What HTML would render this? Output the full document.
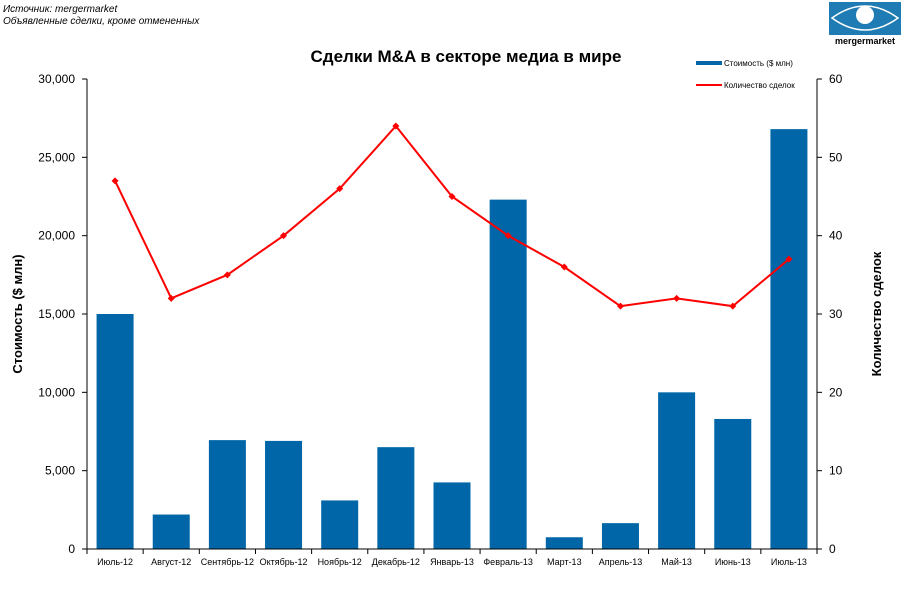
<!DOCTYPE html>
<html><head><meta charset="utf-8"><style>
body{margin:0;background:#fff;width:912px;height:586px;overflow:hidden;font-family:"Liberation Sans",sans-serif}
</style></head><body>
<svg id="chart" width="912" height="586" xmlns="http://www.w3.org/2000/svg" font-family="Liberation Sans, sans-serif">
<text x="3" y="12" font-size="10" font-style="italic">Источник: mergermarket</text>
<text x="3" y="24" font-size="10" font-style="italic">Объявленные сделки, кроме отмененных</text>
<g>
<rect x="829" y="2" width="72" height="33" fill="#1f7bb3"/>
<path d="M832 18 Q865 -6 898 18 Q865 42 832 18Z" fill="none" stroke="#fff" stroke-width="1.5"/>
<circle cx="865" cy="15" r="9" fill="#fff"/>
<text x="865" y="44" font-size="9" font-weight="bold" text-anchor="middle">mergermarket</text>
</g>
<text x="466" y="62" font-size="17" font-weight="bold" text-anchor="middle">Сделки M&amp;A  в секторе медиа в мире</text>
<g>
<rect x="696" y="61" width="26" height="4" fill="#0066a8"/>
<text x="724" y="66" font-size="8">Стоимость ($ млн)</text>
<line x1="696" y1="85" x2="722" y2="85" stroke="#f00" stroke-width="2"/>
<text x="724" y="88" font-size="8">Количество сделок</text>
</g>
<text transform="translate(22,314) rotate(-90)" font-size="13" font-weight="bold" text-anchor="middle">Стоимость  ($ млн)</text>
<text transform="translate(881,314) rotate(-90)" font-size="13" font-weight="bold" text-anchor="middle">Количество сделок</text>
<g id="plot"></g>
</svg>
<script>
const categories=["Июль-12","Август-12","Сентябрь-12","Октябрь-12","Ноябрь-12","Декабрь-12","Январь-13","Февраль-13","Март-13","Апрель-13","Май-13","Июнь-13","Июль-13"];
const values=[15000,2200,6950,6900,3100,6500,4250,22300,750,1650,10000,8300,26800];
const counts=[47,32,35,40,46,54,45,40,36,31,32,31,37];
const leftTicks=[0,5000,10000,15000,20000,25000,30000];
const rightTicks=[0,10,20,30,40,50,60];
const X0=87,X1=817,Y0=549,Y1=79;
const step=(X1-X0)/categories.length;
const yL=v=>Y0-(v/30000)*(Y0-Y1);
const yR=v=>Y0-(v/60)*(Y0-Y1);
const xC=i=>X0+step*(i+0.5);
const NS="http://www.w3.org/2000/svg";
const g=document.getElementById('plot');
function mk(t,a){const e=document.createElementNS(NS,t);for(const k in a)e.setAttribute(k,a[k]);g.appendChild(e);return e;}
values.forEach((v,i)=>{
const r=mk('rect',{x:xC(i)-18.5,y:yL(v),width:37,height:Y0-yL(v),fill:'#0066a8'});


});
let a=mk('line',{x1:X0,y1:Y0,x2:X1,y2:Y0,stroke:'#000'});


a=mk('line',{x1:X0,y1:Y1,x2:X0,y2:Y0,stroke:'#000'});


a=mk('line',{x1:X1,y1:Y1,x2:X1,y2:Y0,stroke:'#000'});


leftTicks.forEach(t=>{
mk('line',{x1:X0-5,y1:yL(t),x2:X0,y2:yL(t),stroke:'#000'});
const e=mk('text',{x:X0-12,y:yL(t)+4,'font-size':12,'text-anchor':'end'});
e.textContent=t.toLocaleString('en-US');


});
rightTicks.forEach(t=>{
mk('line',{x1:X1,y1:yR(t),x2:X1+5,y2:yR(t),stroke:'#000'});
const e=mk('text',{x:X1+12,y:yR(t)+4,'font-size':12});
e.textContent=t;


});
categories.forEach((c,i)=>{
mk('line',{x1:X0+step*i,y1:Y0,x2:X0+step*i,y2:Y0+5,stroke:'#000'});
const e=mk('text',{x:xC(i),y:Y0+16,'font-size':9,'text-anchor':'middle'});
e.textContent=c;


});
mk('line',{x1:X1,y1:Y0,x2:X1,y2:Y0+5,stroke:'#000'});
const pl=mk('polyline',{points:counts.map((c,i)=>xC(i)+','+yR(c)).join(' '),fill:'none',stroke:'#f00','stroke-width':2});


counts.forEach((c,i)=>{
const x=xC(i),y=yR(c);
const m=mk('polygon',{points:`${x},${y-3.5} ${x+3.5},${y} ${x},${y+3.5} ${x-3.5},${y}`,fill:'#f00'});


});
</script>
</body></html>
